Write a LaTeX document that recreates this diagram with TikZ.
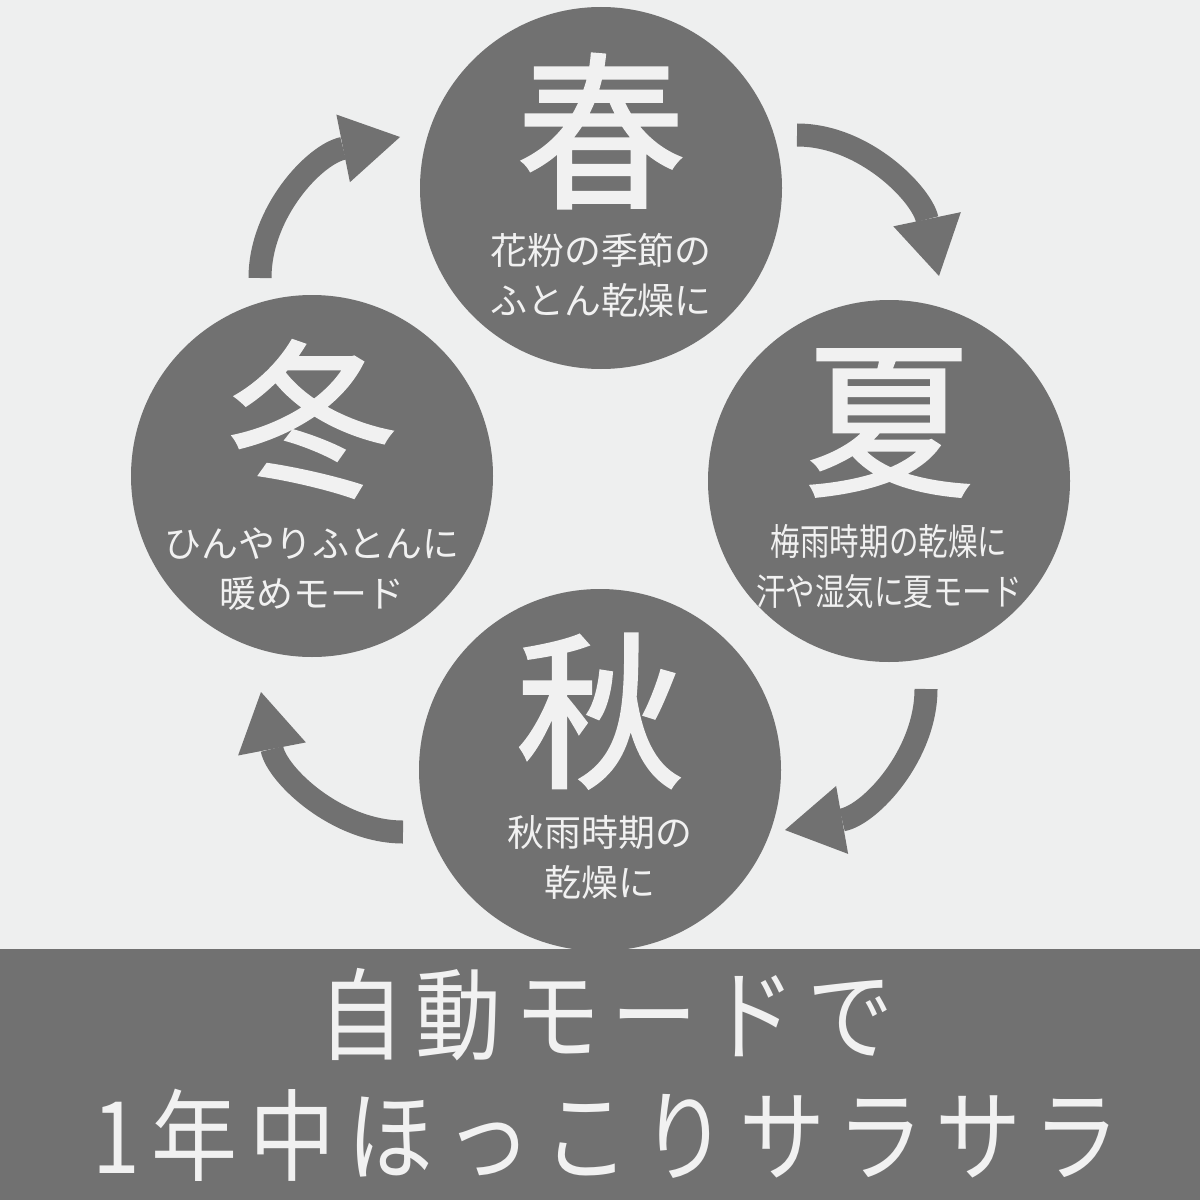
\documentclass[tikz,border=0pt]{standalone}
\usepackage{fontspec}
\usetikzlibrary{arrows.meta}
\newfontfamily\jpfont{Noto Sans CJK JP}
\newfontfamily\jpheavy{Noto Sans CJK JP}[FakeBold=1.6]
\newfontfamily\jpnarrow{Noto Sans CJK JP}[FakeStretch=0.8]
\newfontfamily\jpbanner{Noto Sans CJK JP}[FakeStretch=0.86, LetterSpace=12]
\definecolor{bgcol}{RGB}{238,239,239}
\definecolor{disccol}{RGB}{113,113,113}
\definecolor{inkcol}{RGB}{241,241,241}
\begin{document}
\begin{tikzpicture}[x=0.1mm,y=-0.1mm,
  season/.style={circle, fill=disccol, minimum size=36.2mm, inner sep=0pt},
  kanji/.style={text=inkcol, font=\jpheavy\fontsize{47.8pt}{50pt}\selectfont, inner sep=0pt},
  caption/.style={text=inkcol, font=\jpfont\fontsize{10.5pt}{14.23pt}\selectfont, align=center, inner sep=0pt},
  captionnarrow/.style={caption, font=\jpnarrow\fontsize{10.5pt}{14.23pt}\selectfont},
  cyclearrow/.style={draw=disccol, line width=2.3mm, -{Triangle[width=6.9mm,length=5.8mm,line width=0pt]}},
  bannertext/.style={text=inkcol, font=\jpbanner\fontsize{28.45pt}{34.4pt}\selectfont, align=center, inner sep=0pt}
]
\useasboundingbox (0,0) rectangle (1200,1200);
\fill[bgcol] (0,0) rectangle (1200,1200);

% circles
\node[season] (spring) at (601,188) {};
\node[season] (summer) at (889,481) {};
\node[season] (autumn) at (600,770) {};
\node[season] (winter) at (312,476) {};

% big kanji
\node[kanji] (springK) at (601,131) {春};
\node[kanji] (summerK) at (889,423) {夏};
\node[kanji] (autumnK) at (600,711) {秋};
\node[kanji] (winterK) at (312,419) {冬};

% captions
\node[caption] (springC) at (601,275) {花粉の季節の\\ふとん乾燥に};
\node[captionnarrow] (summerC) at (889,567) {梅雨時期の乾燥に\\汗や湿気に夏モード};
\node[caption] (autumnC) at (600,857) {秋雨時期の\\乾燥に};
\node[caption] (winterC) at (312,569) {ひんやりふとんに\\暖めモード};

% arrows
\coordinate (a1s) at (797,135);
\coordinate (a1e) at (939,276);
\coordinate (a2s) at (926,689);
\coordinate (a2e) at (785,830);
\coordinate (a3s) at (403,832);
\coordinate (a3e) at (261,692);
\coordinate (a4s) at (260,278);
\coordinate (a4e) at (400,137);
\draw[cyclearrow] (a1s) .. controls (865,135) and (922,195) .. (a1e);
\draw[cyclearrow] (a2s) .. controls (926,755) and (870,815) .. (a2e);
\draw[cyclearrow] (a3s) .. controls (337,832) and (277,775) .. (a3e);
\draw[cyclearrow] (a4s) .. controls (260,212) and (315,154) .. (a4e);

% banner
\fill[disccol] (0,949) rectangle (1200,1200);
\node[bannertext] (banner) at (606,1075) {自動モードで\\1年中ほっこりサラサラ};
\end{tikzpicture}
\end{document}
